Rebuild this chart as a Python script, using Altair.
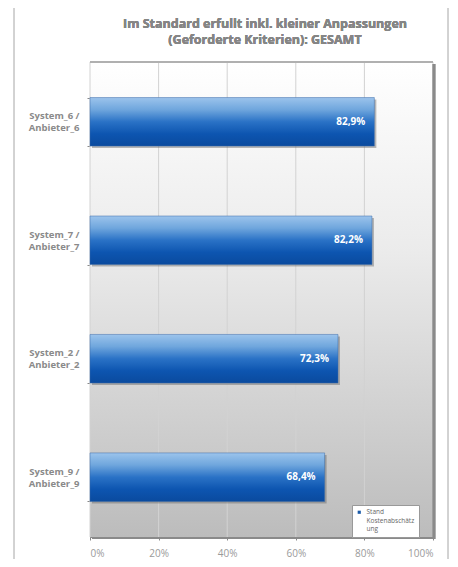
import altair as alt
import pandas as pd

categories = ["System_6 /\nAnbieter_6", "System_7 /\nAnbieter_7",
              "System_2 /\nAnbieter_2", "System_9 /\nAnbieter_9"]
values = [82.9, 82.2, 72.3, 68.4]
series_name = "Stand Kostenabschätzung"
x_ticks = [0, 20, 40, 60, 80, 100]
title_text = "Im Standard erfullt inkl. kleiner Anpassungen\n(Geforderte Kriterien):  GESAMT"

df = pd.DataFrame({
    "cat": categories,
    "val": values,
    "label": [f"{v:.1f}".replace(".", ",") + "%" for v in values],
    "series": [series_name] * len(values),
})
ticks_df = pd.DataFrame({"t": x_ticks})

W, H = 343, 475
xs = alt.Scale(domain=[0, 100], nice=False, zero=True)

x_enc = alt.X("val:Q", scale=xs,
              axis=alt.Axis(values=x_ticks, labelExpr="datum.value + '%'", title=None,
                            grid=False, domainColor="#888",
                            tickColor="#888", tickSize=3, labelColor="#9a9a9a",
                            labelFontSize=10, labelPadding=8, labelFont="Open Sans"))
y_enc = alt.Y("cat:N", sort=categories,
              scale=alt.Scale(paddingInner=0.59, paddingOuter=0.3),
              axis=alt.Axis(title=None, labelExpr="split(datum.label, '\\n')",
                            tickBand="extent", tickSize=3, tickColor="#888",
                            domainColor="#888", labelColor="#8a8a8a", labelFontSize=9.5,
                            labelFontWeight="bold", labelFont="Open Sans",
                            labelPadding=8, labelLineHeight=12, labelOffset=-6))

bg = alt.Chart(df).mark_rect(
    color=alt.Gradient(gradient="linear", x1=0, y1=0, x2=0, y2=1,
                       stops=[alt.GradientStop(color="#ffffff", offset=0),
                              alt.GradientStop(color="#ebebeb", offset=0.4),
                              alt.GradientStop(color="#bcbcbc", offset=1)])
).encode(x=alt.value(0), x2=alt.value(W), y=alt.value(0), y2=alt.value(H))

grid = alt.Chart(ticks_df).mark_rule(color="#d2d2d2", strokeWidth=1).encode(
    x=alt.X("t:Q", scale=xs), y=alt.value(0), y2=alt.value(H))

frame = alt.Chart(df).mark_rect(fill=None, stroke="#d0d0d0", strokeWidth=1).encode(
    x=alt.value(-76), x2=alt.value(358), y=alt.value(-70), y2=alt.value(H + 40))

edge_t = alt.Chart(df).mark_rule(color="#b0b0b0", strokeWidth=1.5).encode(
    x=alt.value(0), x2=alt.value(W), y=alt.value(0))
edge_r = alt.Chart(df).mark_rule(color="#8a8a8a", strokeWidth=2.5).encode(
    x=alt.value(W + 1), y=alt.value(2), y2=alt.value(H + 2))
edge_b = alt.Chart(df).mark_rule(color="#8a8a8a", strokeWidth=2).encode(
    x=alt.value(2), x2=alt.value(W + 2), y=alt.value(H + 1))

shadow = alt.Chart(df).mark_bar(color="#666666", opacity=0.45, xOffset=2, yOffset=2).encode(
    x=x_enc, y=y_enc)

bars = alt.Chart(df).mark_bar(
    color=alt.Gradient(gradient="linear", x1=0, y1=0, x2=0, y2=1,
                       stops=[alt.GradientStop(color="#9cc4ec", offset=0),
                              alt.GradientStop(color="#6fa6dd", offset=0.25),
                              alt.GradientStop(color="#2a72c6", offset=0.5),
                              alt.GradientStop(color="#0d55b0", offset=0.75),
                              alt.GradientStop(color="#0a4a9e", offset=1)]),
    stroke="#3a6aa8", strokeWidth=0.5
).encode(x=x_enc, y=y_enc)

text = alt.Chart(df).mark_text(align="right", dx=-9, color="white", fontWeight="bold",
                               fontSize=10, font="Open Sans").encode(
    x="val:Q", y=alt.Y("cat:N", sort=categories), text="label:N")

title = alt.Chart(df).mark_text(align="center", baseline="middle", lineBreak="\n",
                                lineHeight=16, fontSize=12.5, fontWeight="bold",
                                color="#858585", font="Open Sans").encode(
    x=alt.value(175), y=alt.value(-38), text=alt.value(title_text))

legend_layer = alt.Chart(df).mark_square(size=0, opacity=1).encode(
    x="val:Q", y=alt.Y("cat:N", sort=categories),
    color=alt.Color("series:N", scale=alt.Scale(range=["#1a5aa8"]),
                    legend=alt.Legend(orient="none", legendX=262, legendY=443, title=None,
                                      labelExpr="['Stand', 'Kostenabschätz', 'ung']",
                                      labelFontSize=6.5, labelColor="#666", labelFont="Open Sans",
                                      symbolType="square", symbolSize=10, symbolOpacity=1,
                                      fillColor="white", strokeColor="#999", padding=4,
                                      labelLimit=80)))

chart = alt.layer(frame, bg, grid, edge_t, edge_r, edge_b, shadow, bars, text, title,
                  legend_layer).properties(
    width=W, height=H,
    padding={"left": 82, "top": 54, "right": 17, "bottom": 22},
    autosize=alt.AutoSizeParams(type="none"),
).configure_view(stroke=None)

chart.save("out.html", embed_options={"renderer": "svg", "actions": False})
